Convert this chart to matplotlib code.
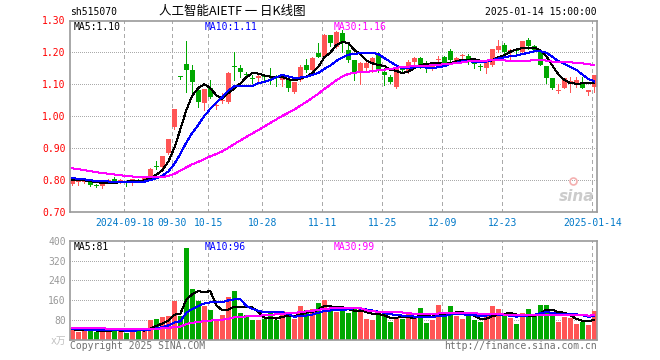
import numpy as np
import pandas as pd
import matplotlib
matplotlib.use("Agg")
import matplotlib.pyplot as plt

# ---------------- data ----------------
opens = [0.788, 0.795, 0.793, 0.800, 0.783, 0.780, 0.795, 0.804, 0.794, 0.791,
         0.790, 0.801, 0.801, 0.806, 0.843, 0.840, 0.886, 0.967, 1.124, 1.163,
         1.144, 1.082, 1.043, 1.087, 1.032, 1.048, 1.045, 1.155, 1.150, 1.131,
         1.120, 1.121, 1.125, 1.123, 1.121, 1.115, 1.115, 1.077, 1.113, 1.162,
         1.145, 1.199, 1.186, 1.254, 1.218, 1.262, 1.207, 1.176, 1.140, 1.150,
         1.166, 1.194, 1.139, 1.124, 1.093, 1.150, 1.140, 1.170, 1.181, 1.160,
         1.150, 1.175, 1.186, 1.204, 1.173, 1.189, 1.188, 1.166, 1.156, 1.150,
         1.160, 1.207, 1.223, 1.206, 1.207, 1.200, 1.238, 1.220, 1.204, 1.158,
         1.121, 1.079, 1.087, 1.108, 1.103, 1.108, 1.075, 1.093]
highs = [0.803, 0.804, 0.808, 0.802, 0.788, 0.795, 0.802, 0.811, 0.803, 0.796,
         0.804, 0.803, 0.811, 0.837, 0.860, 0.876, 0.930, 1.024, 1.126, 1.235,
         1.161, 1.093, 1.084, 1.113, 1.040, 1.072, 1.140, 1.202, 1.160, 1.140,
         1.129, 1.135, 1.130, 1.150, 1.128, 1.128, 1.124, 1.108, 1.160, 1.180,
         1.185, 1.228, 1.258, 1.256, 1.266, 1.270, 1.228, 1.176, 1.171, 1.180,
         1.185, 1.200, 1.150, 1.130, 1.150, 1.155, 1.175, 1.185, 1.185, 1.172,
         1.165, 1.190, 1.188, 1.212, 1.186, 1.194, 1.194, 1.181, 1.165, 1.169,
         1.212, 1.238, 1.231, 1.210, 1.210, 1.235, 1.244, 1.222, 1.210, 1.158,
         1.121, 1.100, 1.119, 1.124, 1.124, 1.124, 1.082, 1.129]
lows = [0.786, 0.785, 0.790, 0.783, 0.778, 0.776, 0.793, 0.791, 0.792, 0.783,
        0.784, 0.794, 0.799, 0.804, 0.834, 0.838, 0.882, 0.960, 1.116, 1.077,
        1.077, 1.030, 1.020, 1.056, 1.023, 1.042, 1.042, 1.114, 1.124, 1.124,
        1.103, 1.110, 1.110, 1.100, 1.095, 1.095, 1.079, 1.074, 1.110, 1.140,
        1.143, 1.186, 1.184, 1.220, 1.213, 1.200, 1.170, 1.113, 1.100, 1.145,
        1.140, 1.140, 1.098, 1.105, 1.088, 1.140, 1.135, 1.165, 1.150, 1.140,
        1.145, 1.165, 1.160, 1.165, 1.170, 1.176, 1.165, 1.152, 1.145, 1.136,
        1.158, 1.202, 1.192, 1.176, 1.190, 1.198, 1.210, 1.205, 1.160, 1.103,
        1.085, 1.072, 1.087, 1.077, 1.093, 1.088, 1.067, 1.077]
closes = [0.801, 0.796, 0.801, 0.786, 0.782, 0.793, 0.800, 0.793, 0.800, 0.790,
          0.802, 0.796, 0.808, 0.835, 0.842, 0.874, 0.929, 1.023, 1.123, 1.144,
          1.106, 1.046, 1.084, 1.061, 1.033, 1.052, 1.135, 1.153, 1.140, 1.130,
          1.118, 1.127, 1.124, 1.122, 1.119, 1.126, 1.087, 1.106, 1.155, 1.145,
          1.183, 1.186, 1.254, 1.228, 1.265, 1.228, 1.175, 1.140, 1.168, 1.166,
          1.181, 1.145, 1.129, 1.108, 1.148, 1.145, 1.171, 1.181, 1.160, 1.158,
          1.162, 1.177, 1.160, 1.176, 1.184, 1.191, 1.176, 1.165, 1.155, 1.169,
          1.212, 1.221, 1.200, 1.208, 1.205, 1.235, 1.221, 1.207, 1.162, 1.119,
          1.087, 1.082, 1.119, 1.110, 1.113, 1.090, 1.082, 1.129]
volumes = [47, 32, 36, 43, 33, 43, 32, 43, 40, 29,
           49, 36, 36, 80, 84, 93, 97, 157, 96, 369,
           204, 157, 136, 120, 84, 100, 172, 196, 108, 100,
           80, 80, 84, 107, 80, 116, 97, 84, 136, 120,
           124, 148, 160, 124, 112, 116, 108, 132, 124, 84,
           80, 104, 104, 72, 92, 84, 108, 88, 128, 68,
           80, 140, 104, 136, 96, 84, 96, 80, 72, 96,
           136, 124, 100, 88, 64, 108, 124, 100, 140, 140,
           107, 72, 92, 88, 66, 72, 62, 118]
# closes / volumes of the 29 sessions before the visible window (for the moving averages)
prior_closes = [0.885, 0.882, 0.878, 0.880, 0.872, 0.868, 0.870, 0.865, 0.857,
                0.852, 0.848, 0.845, 0.840, 0.838, 0.835, 0.832, 0.830, 0.828,
                0.824, 0.818, 0.820, 0.815, 0.812, 0.808, 0.806, 0.802, 0.798,
                0.800, 0.799]
prior_volumes = [58, 52, 61, 55, 49, 53, 60, 57, 50, 47, 52, 55, 48, 51, 46,
                 50, 53, 45, 49, 52, 47, 44, 50, 46, 42, 45, 40, 44, 41]
holidays = ["2024-09-16", "2024-09-17", "2024-10-01", "2024-10-02", "2024-10-03",
            "2024-10-04", "2024-10-07", "2025-01-01"]
tick_dates = ["2024-09-18", "2024-09-30", "2024-10-15", "2024-10-28", "2024-11-11",
              "2024-11-25", "2024-12-09", "2024-12-23", "2025-01-14"]
tick_labels = ["2024-09-18", "09-30", "10-15", "10-28", "11-11",
               "11-25", "12-09", "12-23", "2025-01-14"]
price_ticks = [0.70, 0.80, 0.90, 1.00, 1.10, 1.20, 1.30]
vol_ticks = [80, 160, 240, 320, 400]

# ---------------- derived ----------------
dates = pd.bdate_range("2024-09-03", "2025-01-14")
dates = dates[~dates.isin(pd.to_datetime(holidays))]
x = np.arange(len(closes))
tick_idx = [int(np.where(dates == pd.Timestamp(d))[0][0]) for d in tick_dates]

o = np.array(opens); h = np.array(highs); l = np.array(lows); c = np.array(closes)
v = np.array(volumes)
n_prior = len(prior_closes)
cs = pd.Series(prior_closes + closes)
vs = pd.Series(prior_volumes + volumes)
ma = {k: cs.rolling(k).mean().iloc[n_prior:].to_numpy() for k in (5, 10, 30)}
vma = {k: vs.rolling(k).mean().iloc[n_prior:].to_numpy() for k in (5, 10, 30)}

RED = "#ff5555"
GREEN = "#00a800"
MA_COL = {5: "#000000", 10: "#0000ff", 30: "#ff00ff"}
GRID = "#aaaaaa"
FRAME = "#9a9a9a"
MONO = "DejaVu Sans Mono"
PX = 0.72  # one pixel in points

up = c >= o
cols = np.where(up, RED, GREEN)

W, H = 660, 360
fig = plt.figure(figsize=(W / 100, H / 100), dpi=100)
fig.patch.set_facecolor("white")

def ax_rect(left, top, right, bottom):
    return [left / W, 1 - bottom / H, (right - left) / W, (bottom - top) / H]

ax = fig.add_axes(ax_rect(70, 20.5, 597, 212))
axv = fig.add_axes(ax_rect(70, 240.7, 597, 340))

x_lo, x_hi = -0.38, 87.45
vline_x = [t - 0.3 for t in tick_idx]

for a in (ax, axv):
    a.set_xlim(x_lo, x_hi)
    for s in a.spines.values():
        s.set_color(FRAME)
        s.set_linewidth(1.2)
    a.tick_params(length=0)
    for vx in vline_x:
        a.axvline(vx, color=GRID, lw=PX, ls=(0, (4, 3)), zorder=0.5, antialiased=False)

# ---- price panel ----
ax.set_ylim(price_ticks[0], price_ticks[-1])
for py in price_ticks[1:-1]:
    ax.axhline(py, color=GRID, lw=PX, ls=(0, (1, 2)), zorder=0.5, antialiased=False)
ax.vlines(x, l, h, colors=cols, lw=PX, zorder=2, antialiased=False)
ax.bar(x, np.maximum(np.abs(c - o), 0.003), width=0.75, bottom=np.minimum(o, c),
       color=cols, linewidth=0, zorder=2.1, antialiased=False)
for k in (5, 10, 30):
    ax.plot(x, ma[k], color=MA_COL[k], lw=PX, zorder=3, antialiased=False)
ax.set_yticks(price_ticks)
ax.set_yticklabels([f"{p:.2f}" for p in price_ticks], color="#ff0000",
                   fontfamily=MONO, fontsize=7)
ax.set_xticks(vline_x)
ax.set_xticklabels(tick_labels, color="#0078c8", fontfamily=MONO, fontsize=7)
ax.tick_params(axis="x", pad=4)
ax.tick_params(axis="y", pad=3)

ax.text(0.006, 0.965, f"MA5:{ma[5][-1]:.2f}", transform=ax.transAxes,
        color=MA_COL[5], fontfamily=MONO, fontsize=7, va="center", ha="left")
ax.text((205 - 70) / 527, 0.965, f"MA10:{ma[10][-1]:.2f}", transform=ax.transAxes,
        color=MA_COL[10], fontfamily=MONO, fontsize=7, va="center", ha="left")
ax.text((334 - 70) / 527, 0.965, f"MA30:{ma[30][-1]:.2f}", transform=ax.transAxes,
        color=MA_COL[30], fontfamily=MONO, fontsize=7, va="center", ha="left")
ax.text(0.995, 0.08, "sina", transform=ax.transAxes, color="#cccccc",
        fontsize=11, fontweight="bold", fontstyle="italic", ha="right", va="center")
ax.plot([0.955], [0.16], transform=ax.transAxes, marker="o", ms=5, mfc="none",
        mec="#f4b0b0", mew=1.2, zorder=1)

# ---- volume panel ----
axv.set_ylim(0, vol_ticks[-1])
for vy in vol_ticks[:-1]:
    axv.axhline(vy, color=GRID, lw=PX, ls=(0, (1, 2)), zorder=0.5, antialiased=False)
axv.bar(x, v, width=0.8, color=cols, linewidth=0, zorder=2, antialiased=False)
for k in (5, 10, 30):
    axv.plot(x, vma[k], color=MA_COL[k], lw=PX, zorder=3, antialiased=False)
axv.set_yticks(vol_ticks)
axv.set_yticklabels([str(t) for t in vol_ticks], color="#999999", fontfamily=MONO, fontsize=7)
axv.set_xticks([])
axv.tick_params(axis="y", pad=3)
axv.text(0.006, 0.94, f"MA5:{vma[5][-1]:.0f}", transform=axv.transAxes,
         color=MA_COL[5], fontfamily=MONO, fontsize=7, va="center", ha="left")
axv.text((205 - 70) / 527, 0.94, f"MA10:{vma[10][-1]:.0f}", transform=axv.transAxes,
         color=MA_COL[10], fontfamily=MONO, fontsize=7, va="center", ha="left")
axv.text((334 - 70) / 527, 0.94, f"MA30:{vma[30][-1]:.0f}", transform=axv.transAxes,
         color=MA_COL[30], fontfamily=MONO, fontsize=7, va="center", ha="left")

# ---- header / footer texts ----
fig.text(70 / W, 1 - 12 / H, "sh515070", fontfamily=MONO, fontsize=7,
         color="black", ha="left", va="center")
fig.text(232 / W, 1 - 12 / H, "人工智能AIETF 一 日K线图",
         fontfamily=["Noto Sans CJK SC", "DejaVu Sans"], fontsize=9,
         color="black", ha="center", va="center")
fig.text(597 / W, 1 - 12 / H, "2025-01-14 15:00:00", fontfamily=MONO, fontsize=7,
         color="black", ha="right", va="center")
fig.text(70 / W, 1 - 346 / H, "Copyright 2025 SINA.COM", fontfamily=MONO, fontsize=7,
         color="#707070", ha="left", va="center")
fig.text(597 / W, 1 - 346 / H, "http://finance.sina.com.cn", fontfamily=MONO, fontsize=7,
         color="#707070", ha="right", va="center")
fig.text(66 / W, 1 - 341 / H, "x万", fontfamily=["DejaVu Sans Mono", "Noto Sans CJK SC"],
         fontsize=7, color="#c0c0c0", ha="right", va="center")

fig.savefig("out.png", dpi=100, facecolor="white")
